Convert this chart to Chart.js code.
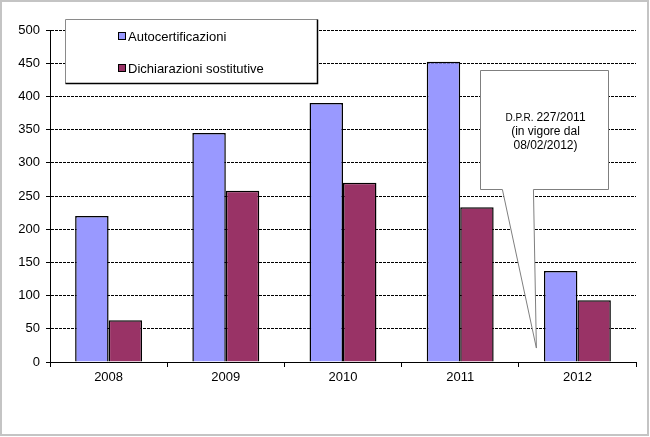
<!DOCTYPE html>
<html>
<head>
<meta charset="utf-8">
<script src="https://cdn.jsdelivr.net/npm/chart.js@4"></script>
<style>
  body { margin: 0; background: #fff; }
  #wrap { width: 650px; height: 437px; }
</style>
</head>
<body>
<div id="wrap"><canvas id="chart" width="650" height="437"></canvas></div>
<script>
const years = ["2008", "2009", "2010", "2011", "2012"];
const autocertificazioni = [220, 345, 390, 452, 137];
const dichiarazioni = [63, 258, 270, 233, 93];
const yTicks = [0, 50, 100, 150, 200, 250, 300, 350, 400, 450, 500];

const calloutLines = ["227/2011", "(in vigore dal", "08/02/2012)"];

const FONT = "'Liberation Sans', Arial, sans-serif";

// box, pointer and tip in axis units (category index, value)
const callout = {
  xMin: 3.17, xMax: 4.26, yMin: 260, yMax: 440,
  baseLeft: 3.36, baseRight: 3.625,
  tipX: 3.65, tipY: 21
};

const framePlugin = {
  id: "frame",
  afterDraw(chart) {
    const ctx = chart.ctx;
    ctx.save();
    // outer border
    ctx.strokeStyle = "#c4c4c4";
    ctx.lineWidth = 2;
    ctx.strokeRect(1, 1, 647, 434);

    // legend box
    ctx.fillStyle = "#fff";
    ctx.fillRect(66, 20, 251, 63);
    ctx.lineWidth = 1;
    ctx.strokeStyle = "#8a8a8a";
    ctx.beginPath();
    ctx.moveTo(65.5, 83.5);
    ctx.lineTo(65.5, 19.5);
    ctx.lineTo(317.5, 19.5);
    ctx.stroke();
    ctx.strokeStyle = "#000";
    ctx.lineWidth = 1.5;
    ctx.beginPath();
    ctx.moveTo(317.5, 19.5);
    ctx.lineTo(317.5, 83.5);
    ctx.lineTo(65.5, 83.5);
    ctx.stroke();

    const rows = [36, 68];
    ctx.font = "13px " + FONT;
    ctx.textBaseline = "middle";
    ctx.textAlign = "left";
    chart.data.datasets.forEach((ds, i) => {
      ctx.fillStyle = ds.backgroundColor;
      ctx.fillRect(118.5, rows[i] - 3.5, 7, 7);
      ctx.strokeStyle = "#000";
      ctx.lineWidth = 1;
      ctx.strokeRect(118.5, rows[i] - 3.5, 7, 7);
      ctx.fillStyle = "#000";
      ctx.fillText(ds.label, 128, rows[i] + 1);
    });

    // callout
    const x = chart.scales.x, y = chart.scales.y;
    const l = Math.round(x.getPixelForValue(callout.xMin)) + 0.5;
    const r = Math.round(x.getPixelForValue(callout.xMax)) + 0.5;
    const t = Math.round(y.getPixelForValue(callout.yMax)) + 0.5;
    const b = Math.round(y.getPixelForValue(callout.yMin)) + 0.5;
    const bl = x.getPixelForValue(callout.baseLeft);
    const br = x.getPixelForValue(callout.baseRight);
    const tx = x.getPixelForValue(callout.tipX);
    const ty = y.getPixelForValue(callout.tipY);
    ctx.beginPath();
    ctx.moveTo(l, t);
    ctx.lineTo(r, t);
    ctx.lineTo(r, b);
    ctx.lineTo(br, b);
    ctx.lineTo(tx, ty);
    ctx.lineTo(bl, b);
    ctx.lineTo(l, b);
    ctx.closePath();
    ctx.fillStyle = "#fff";
    ctx.fill();
    ctx.strokeStyle = "#7f7f7f";
    ctx.lineWidth = 1;
    ctx.stroke();

    const cx = (l + r) / 2 + 1;
    const lineY = [t + 47, t + 61.5, t + 75.5];
    ctx.fillStyle = "#000";
    ctx.textBaseline = "middle";
    // first line: small "D.P.R." then the number
    ctx.font = "10px " + FONT;
    const pre = "D.P.R. ";
    const wPre = ctx.measureText(pre).width;
    ctx.font = "12px " + FONT;
    const wNum = ctx.measureText(calloutLines[0]).width;
    const sx = cx - (wPre + wNum) / 2;
    ctx.textAlign = "left";
    ctx.font = "10px " + FONT;
    ctx.fillText(pre, sx, lineY[0] + 1);
    ctx.font = "12px " + FONT;
    ctx.fillText(calloutLines[0], sx + wPre, lineY[0]);
    ctx.textAlign = "center";
    ctx.fillText(calloutLines[1], cx, lineY[1]);
    ctx.fillText(calloutLines[2], cx, lineY[2]);
    ctx.restore();
  }
};

new Chart(document.getElementById("chart"), {
  type: "bar",
  data: {
    labels: years,
    datasets: [
      {
        label: "Autocertificazioni",
        data: autocertificazioni,
        backgroundColor: "#9999ff",
        borderColor: "#000",
        borderWidth: 1.5
      },
      {
        label: "Dichiarazioni sostitutive",
        data: dichiarazioni,
        backgroundColor: "#993366",
        borderColor: "#000",
        borderWidth: 1.5
      }
    ]
  },
  options: {
    responsive: false,
    animation: false,
    devicePixelRatio: 1,
    layout: { padding: { left: 0, right: 14, top: 30, bottom: 0 } },
    datasets: {
      bar: { categoryPercentage: 0.571, barPercentage: 1 }
    },
    plugins: {
      legend: { display: false },
      tooltip: { enabled: false }
    },
    scales: {
      x: {
        grid: {
          display: true,
          drawOnChartArea: false,
          drawTicks: true,
          tickLength: 5,
          tickColor: "#000",
          offset: true
        },
        border: { display: true, color: "#000", width: 1 },
        ticks: {
          color: "#000",
          font: { family: FONT, size: 13 },
          padding: 3
        },
        afterFit(scale) { scale.height = 75; }
      },
      y: {
        min: 0,
        max: 500,
        afterBuildTicks(scale) {
          scale.ticks = yTicks.map(v => ({ value: v }));
        },
        grid: {
          color: "#000",
          lineWidth: 1,
          tickLength: 4,
          tickColor: "#000"
        },
        border: { display: true, color: "#000", width: 1, dash: [3, 1] },
        ticks: {
          color: "#000",
          font: { family: FONT, size: 13 },
          padding: 6
        },
        afterFit(scale) { scale.width = 50; }
      }
    }
  },
  plugins: [framePlugin]
});
</script>
</body>
</html>
